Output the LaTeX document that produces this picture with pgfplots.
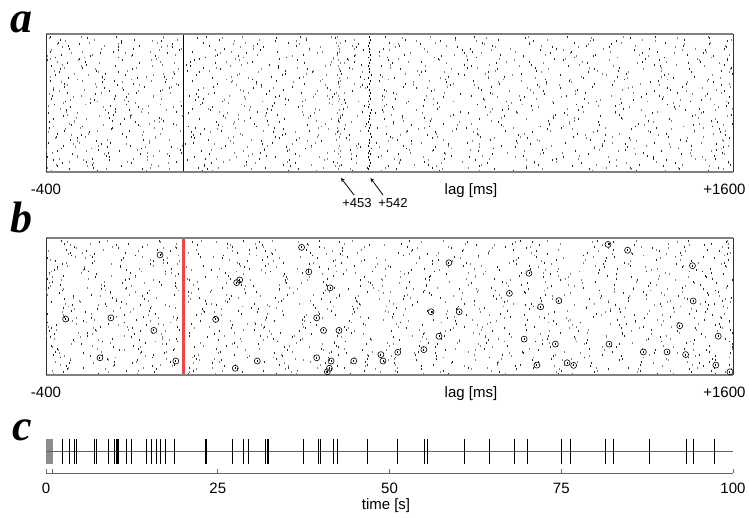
\documentclass[border=0pt]{standalone}
\usepackage{pgfplots}
\usepackage{pgfplotstable}
\pgfplotsset{compat=1.18}
\usepackage{fontspec}
\setmainfont{Liberation Sans}
\newfontfamily\panelfont{Liberation Serif}
\definecolor{zerored}{RGB}{236,72,72}

% raster a: one row per trigger, lags in ms
\pgfplotstableread{
r x1 x2 x3 x4 x5 x6 x7 x8 x9 x10 x11 x12 x13 x14 x15 x16 x17
17 -391 -318 -139 -71 96 150 281 489 611 803 917 1124 1209 1367 1555 nan nan
34 -362 -247 -188 -30 47 218 376 520 694 760 889 1043 1180 1296 1478 1590 nan
4 -378 -290 -214 -104 12 135 309 410 633 712 851 998 1075 1262 1405 1521 nan
21 -341 -226 -158 -49 78 193 256 397 579 677 930 1015 1151 1333 1462 1548 nan
38 -396 -305 -177 -92 31 164 333 481 598 745 826 964 1107 1239 1386 1502 1583
8 -355 -268 -121 -17 110 237 355 506 650 781 903 1058 1197 1314 1441 1567 nan
25 -384 -272 -200 -63 59 181 297 424 617 728 874 1029 1168 1271 1395 1533 nan
42 -332 -239 -146 -5 120 203 368 498 581 703 836 951 1086 1222 1357 1490 1576
12 -370 -284 -166 -80 23 145 268 389 603 739 866 981 1135 1250 1412 1515 nan
29 -347 -254 -113 -36 88 226 318 515 640 770 898 1037 1190 1308 1453 1592 nan
46 -388 -296 -194 -58 67 172 340 432 588 719 846 1004 1118 1281 1374 1528 nan
16 -326 -233 -132 -21 102 249 362 473 665 798 925 1066 1211 1342 1484 1571 nan
33 -373 -276 -170 -87 39 158 288 416 574 688 817 957 1097 1233 1401 1540 nan
3 -352 -261 -152 -44 81 210 325 503 629 752 884 1022 1159 1290 1433 1587 nan
20 -394 -309 -218 -101 16 127 243 381 560 697 829 972 1110 1257 1365 1509 nan
37 -337 -243 -129 -26 93 185 352 468 610 767 910 1049 1175 1321 1469 1560 nan
7 -366 -281 -185 -69 53 176 302 439 593 724 859 993 1140 1266 1392 1537 nan
24 -344 -250 -160 -10 115 231 347 511 655 785 941 1074 1203 1350 1476 1580 nan
41 -386 -293 -205 -95 27 140 273 405 570 710 842 968 1129 1244 1381 1523 nan
11 -329 -222 -117 -40 73 197 330 484 622 757 893 1032 1186 1302 1447 1569 nan
28 -379 -288 -174 -61 44 165 291 428 584 731 869 1010 1148 1277 1418 1551 nan
45 -357 -258 -143 -18 105 221 359 497 646 792 918 1061 1193 1336 1459 1595 nan
15 -390 -300 -208 -84 35 152 264 393 566 701 823 960 1102 1229 1378 1513 nan
32 -335 -236 -135 -33 86 190 338 477 615 748 887 1026 1165 1294 1427 1563 nan
2 -368 -279 -181 -74 62 178 311 442 597 736 863 999 1132 1261 1397 1531 nan
19 -349 -245 -155 -2 118 240 370 508 637 776 934 1078 1215 1345 1481 1584 nan
36 -383 -298 -197 -90 20 137 277 413 577 706 838 977 1121 1252 1389 1518 nan
6 -323 -229 -125 -47 77 202 326 490 626 763 901 1040 1178 1317 1450 1574 nan
23 -375 -285 -167 -66 49 169 296 435 590 727 855 988 1144 1270 1410 1545 nan
40 -354 -264 -149 -24 98 215 349 501 643 788 922 1054 1200 1328 1466 1589 nan
10 -392 -303 -212 -98 30 146 260 385 563 694 827 973 1113 1248 1372 1507 nan
27 -339 -240 -138 -37 90 188 343 470 612 760 895 1020 1170 1311 1437 1566 nan
44 -364 -274 -179 -77 57 182 305 447 600 733 870 1006 1137 1274 1404 1535 nan
14 -345 -251 -158 -8 112 234 366 514 652 782 937 1069 1206 1354 1488 1578 nan
31 -387 -294 -202 -93 25 142 270 400 572 715 845 983 1125 1255 1384 1526 nan
1 -331 -225 -120 -42 70 199 334 487 619 753 906 1045 1183 1305 1444 1571 nan
18 -377 -283 -171 -64 46 160 293 431 586 722 861 1000 1150 1279 1415 1548 nan
35 -359 -255 -147 -14 108 228 361 493 633 779 914 1064 1196 1339 1472 1592 nan
5 -395 -307 -216 -106 33 155 267 396 568 699 833 966 1106 1236 1369 1511 nan
22 -328 -234 -131 -29 84 194 336 479 608 745 880 1035 1162 1298 1430 1557 nan
39 -372 -287 -190 -72 64 174 300 437 595 730 852 990 1139 1264 1399 1538 nan
9 -350 -248 -153 -4 123 244 372 505 640 772 927 1072 1219 1348 1479 1586 nan
26 -381 -296 -199 -88 18 134 280 418 580 708 840 979 1116 1246 1387 1520 nan
43 -334 -231 -127 -45 75 205 328 492 628 766 899 1042 1173 1315 1456 1577 nan
13 -366 -277 -176 -68 51 167 298 444 592 737 857 994 1146 1268 1406 1543 nan
30 -346 -257 -144 -20 100 213 351 499 645 786 920 1057 1198 1331 1463 1590 nan
}\rasterA

% raster a, spikes falling between the rows above
\pgfplotstableread{
r x1 x2 x3 x4 x5 x6 x7 x8 x9 x10 x11 x12 x13 x14 x15 x16 x17
28.5 -377 -229 -176 -40 58 205 262 419 530 679 711 858 1002 1099 1297 1410 1512
10.5 -309 -254 -98 1 138 227 361 402 597 664 842 969 1036 1226 1318 1465 1571
39.5 -395 -272 -150 -81 93 161 318 499 571 751 823 990 1143 1194 1355 1542 nan
21.5 -358 -199 -120 26 72 244 385 467 612 739 900 946 1118 1280 1431 1503 1597
3.5 -333 -281 -164 -20 117 183 302 436 629 702 813 1021 1087 1239 1378 1586 nan
32.5 -388 -236 -107 -55 141 256 349 515 580 771 888 935 1160 1265 1392 1488 nan
14.5 -344 -210 -61 61 98 290 421 470 683 795 855 1060 1133 1305 1420 1560 nan
43.5 -367 -303 -189 -32 147 215 337 509 625 691 877 1008 1178 1247 1459 1532 nan
25.5 -321 -166 -87 43 177 269 380 433 586 757 914 993 1101 1332 1397 1591 nan
7.5 -398 -248 -135 -8 81 236 310 486 659 729 836 1045 1210 1286 1480 1553 nan
36.5 -351 -283 -60 10 169 251 428 517 603 818 890 1014 1154 1371 1434 1576 nan
18.5 -312 -216 -155 -70 122 196 365 458 637 702 925 1077 1138 1274 1498 nan nan
0.5 -384 -250 -108 55 86 305 388 491 577 744 863 961 1191 1320 1402 1529 nan
29.5 -339 -192 -129 -15 155 227 413 520 669 778 848 1030 1095 1250 1386 1567 nan
11.5 -372 -308 -82 31 132 281 337 474 608 724 905 1003 1172 1298 1468 1590 nan
40.5 -326 -241 -170 -47 109 184 391 448 660 817 869 1068 1127 1336 1429 1514 nan
22.5 -393 -211 -103 -5 178 259 346 527 584 699 945 1012 1208 1257 1445 1580 nan
4.5 -360 -266 -145 64 97 222 418 488 615 760 891 1087 1149 1369 1490 1549 nan
33.5 -318 -228 -59 -25 164 296 357 459 645 801 878 983 1221 1289 1411 1598 nan
15.5 -379 -295 -126 16 115 213 401 530 592 716 931 1040 1106 1316 1457 1539 nan
44.5 -343 -180 -90 -63 150 268 328 472 677 749 852 1020 1185 1262 1375 1583 nan
26.5 -389 -257 -160 38 73 242 383 441 620 807 899 1051 1140 1348 1483 1527 nan
8.5 -314 -220 -111 -36 186 300 373 516 572 733 862 968 1198 1293 1418 1572 nan
37.5 -366 -286 -67 20 125 200 432 499 654 694 940 1007 1163 1335 1405 1506 nan
19.5 -337 -205 -150 -1 160 275 350 463 606 786 884 1083 1117 1270 1492 1595 nan
1.5 -396 -262 -95 45 103 239 409 536 588 726 829 1000 1232 1302 1440 1559 nan
30.5 -356 -235 -177 -52 140 212 321 450 669 765 917 1058 1131 1361 1466 1544 nan
12.5 -325 -296 -118 28 171 287 394 482 631 710 858 974 1170 1229 1384 1577 nan
41.5 -383 -190 -70 -12 94 223 366 525 599 813 897 1039 1105 1312 1452 1520 nan
23.5 -348 -271 -140 54 130 265 425 473 648 741 955 1076 1180 1276 1426 1588 nan
5.5 -307 -224 -88 -41 188 243 338 505 576 780 870 989 1152 1352 1479 1545 nan
34.5 -375 -253 -163 12 77 296 380 456 681 704 908 1028 1205 1266 1393 1566 nan
16.5 -331 -183 -100 -28 146 207 413 533 611 757 839 1066 1124 1325 1501 1597 nan
45.5 -390 -280 -57 40 113 272 357 442 638 792 881 996 1188 1301 1438 1531 nan
27.5 -362 -214 -131 -66 174 250 391 493 590 722 948 1047 1142 1372 1463 1574 nan
9.5 -319 -240 -166 6 89 230 317 511 664 771 861 1009 1219 1288 1414 1552 nan
38.5 -386 -302 -78 47 151 281 436 478 627 743 920 1081 1112 1345 1497 1585 nan
20.5 -341 -197 -123 -19 104 217 347 521 581 806 893 970 1166 1259 1380 1513 nan
2.5 -370 -266 -93 60 183 291 372 460 672 713 867 1035 1201 1327 1454 1593 nan
31.5 -308 -231 -151 -49 126 201 405 528 598 764 933 1055 1128 1283 1409 1528 nan
13.5 -393 -274 -115 22 79 262 325 448 650 735 844 1016 1193 1360 1487 1562 nan
42.5 -353 -188 -65 -33 165 234 398 504 617 797 909 1073 1150 1241 1431 1581 nan
24.5 -329 -258 -172 35 119 306 354 468 579 701 875 982 1213 1309 1448 1507 nan
6.5 -380 -218 -104 -7 148 225 419 538 661 760 942 1049 1103 1339 1476 1569 nan
35.5 -345 -293 -137 57 96 278 332 483 604 827 856 1024 1183 1268 1391 1596 nan
17.5 -316 -206 -85 -58 179 246 388 452 642 718 898 1062 1137 1354 1422 1537 nan
}\rasterAA

% raster b
\pgfplotstableread{
r x1 x2 x3 x4 x5 x6 x7 x8 x9 x10 x11 x12 x13 x14 x15 x16
13 -388 -301 -150 -62 71 245 318 460 612 695 880 955 1139 1232 1390 1521
26 -347 -196 -113 20 133 290 402 571 640 808 910 1075 1183 1349 1466 1577
39 -372 -258 -88 -11 187 263 437 519 724 783 962 1041 1228 1301 1480 nan
5 -330 -219 -135 48 112 349 425 596 677 851 1016 1104 1270 1412 1549 nan
18 -396 -282 -171 -39 94 206 371 488 633 752 893 1062 1157 1316 1441 1590
31 -359 -240 -64 29 168 281 415 550 709 829 985 1120 1255 1378 1505 nan
44 -318 -207 -120 -24 142 234 396 527 651 771 937 1011 1196 1334 1459 1569
10 -383 -265 -145 59 125 310 445 599 688 864 944 1089 1245 1398 1531 nan
23 -350 -183 -97 -23 199 272 383 508 620 797 876 1030 1172 1287 1426 1583
36 -374 -291 -166 23 83 227 364 476 664 745 919 1053 1211 1362 1494 nan
2 -337 -228 -78 38 157 296 431 560 693 839 970 1096 1238 1325 1473 1596
15 -391 -254 -125 -51 105 251 338 499 605 763 901 1067 1150 1304 1437 1556
28 -362 -213 -104 22 180 320 409 583 717 812 996 1128 1282 1391 1525 nan
41 -325 -270 -141 -14 117 214 377 462 641 737 858 1022 1165 1339 1449 1574
7 -379 -236 -86 45 150 285 452 536 676 846 928 1082 1219 1356 1501 nan
20 -345 -195 -116 -30 91 241 353 515 608 790 953 1037 1193 1283 1417 1562
33 -397 -277 -158 12 136 304 420 577 704 823 906 1113 1260 1384 1541 nan
46 -356 -222 -70 53 175 259 396 491 657 758 981 1059 1204 1319 1471 1585
12 -321 -246 -129 -40 101 232 342 548 628 805 889 1045 1176 1347 1488 nan
25 -385 -301 -179 16 129 277 428 506 682 764 935 1101 1237 1408 1519 1593
38 -352 -210 -95 -18 163 248 366 566 724 836 971 1071 1223 1296 1434 1567
4 -333 -263 -147 30 86 293 413 486 614 779 913 1026 1187 1368 1503 nan
17 -370 -189 -109 -58 144 226 388 531 695 857 995 1134 1268 1393 1550 nan
30 -392 -279 -166 -21 114 310 439 554 648 740 896 1060 1164 1311 1452 1580
43 -341 -232 -75 37 192 269 359 519 668 815 960 1092 1251 1376 1527 nan
9 -366 -251 -131 -27 97 220 401 470 631 793 877 1008 1181 1335 1460 1597
22 -327 -204 -100 58 159 287 432 589 710 769 944 1118 1244 1357 1493 nan
35 -389 -297 -154 -36 121 240 348 502 656 831 985 1048 1209 1402 1536 nan
1 -350 -218 -84 17 172 314 416 573 622 749 921 1085 1197 1323 1478 1578
14 -376 -266 -143 -64 90 257 373 524 699 862 949 1039 1277 1364 1509 nan
27 -319 -241 -119 14 139 223 454 511 643 786 904 1073 1216 1298 1442 1560
40 -395 -286 -174 -45 113 281 389 563 687 806 974 1106 1233 1390 1545 nan
6 -358 -199 -91 26 186 262 423 497 617 757 892 1018 1168 1340 1470 1591
19 -336 -258 -137 -20 103 238 347 582 728 842 1002 1127 1263 1381 1516 nan
32 -381 -229 -71 42 166 298 407 540 659 774 930 1055 1199 1318 1485 nan
45 -345 -272 -160 -19 127 211 362 468 635 820 957 1098 1240 1411 1538 1588
11 -398 -213 -110 50 148 330 441 593 714 799 883 1066 1174 1308 1463 nan
24 -323 -247 -126 -53 95 246 379 516 666 846 996 1139 1257 1371 1529 nan
37 -367 -288 -183 10 177 271 396 559 603 772 915 1033 1226 1344 1454 1582
3 -340 -205 -89 -32 119 307 449 529 692 819 968 1079 1186 1396 1514 nan
16 -384 -262 -148 33 141 234 355 481 648 787 936 1123 1274 1328 1491 1570
29 -353 -226 -99 -15 83 279 413 568 701 860 909 1051 1211 1361 1550 nan
42 -330 -294 -170 14 156 255 370 506 626 743 887 1014 1177 1303 1447 1594
8 -373 -239 -123 -48 109 316 430 551 684 829 988 1108 1248 1416 1532 nan
21 -396 -268 -81 52 170 244 396 493 612 766 923 1064 1201 1352 1474 1576
34 -348 -209 -140 -24 131 291 437 588 719 851 977 1091 1235 1385 1521 nan
}\rasterB

\pgfplotstableread{
r x1 x2 x3 x4 x5 x6 x7 x8 x9 x10 x11 x12 x13 x14 x15 x16
36.5 -366 -287 -128 -34 105 193 331 421 589 703 846 1010 1092 1263 1380 1534
26.5 -320 -206 -79 48 160 268 446 502 661 748 927 1040 1213 1297 1459 1596
16.5 -392 -242 -162 -18 77 236 349 470 626 818 871 1022 1145 1340 1422 1563
6.5 -345 -271 -110 31 191 289 382 540 605 736 954 1077 1182 1276 1491 1548
43.5 -310 -189 -57 -19 129 214 410 463 681 780 899 998 1237 1366 1413 1587
33.5 -381 -255 -141 63 98 300 367 528 633 715 851 1047 1121 1305 1469 1522
23.5 -336 -223 -92 -41 173 250 436 491 592 802 932 1018 1173 1391 1446 1571
13.5 -398 -278 -172 17 119 225 322 449 667 759 880 1063 1231 1285 1405 1557
3.5 -357 -201 -66 -25 152 279 398 536 618 728 913 982 1108 1331 1481 1590
40.5 -315 -265 -118 51 88 246 341 478 688 789 860 1029 1195 1254 1433 1514
30.5 -386 -230 -150 -23 181 203 420 515 579 707 945 1071 1139 1355 1462 1583
20.5 -348 -173 -101 37 112 292 359 443 640 824 890 993 1216 1312 1395 1541
10.5 -326 -296 -60 -48 144 219 404 532 611 741 858 1044 1168 1268 1486 1598
0.5 -377 -248 -133 15 94 270 330 485 698 773 938 1093 1134 1381 1428 1550
37.5 -339 -182 -86 59 165 239 443 497 597 814 867 1006 1200 1302 1455 1577
27.5 -395 -268 -158 -27 124 303 378 455 652 722 921 1055 1110 1348 1400 1528
17.5 -312 -217 -72 24 187 210 347 524 620 795 884 1085 1242 1289 1498 1561
7.5 -361 -290 -124 -56 101 264 426 476 674 733 948 989 1155 1370 1439 1592
44.5 -330 -194 -106 41 137 230 363 541 584 852 905 1037 1220 1313 1474 1517
34.5 -389 -252 -52 -14 176 295 405 466 643 766 873 1068 1127 1262 1415 1573
24.5 -344 -227 -165 66 82 208 337 512 612 819 961 1013 1196 1389 1506 1545
14.5 -306 -279 -91 19 149 282 450 489 701 747 845 1099 1176 1277 1443 1597
4.5 -373 -201 -137 -39 106 237 371 530 586 784 918 1033 1148 1332 1467 1532
41.5 -334 -259 -63 44 193 259 416 456 659 710 887 1059 1249 1306 1407 1585
31.5 -390 -176 -114 -22 126 301 345 544 628 839 940 1002 1161 1360 1488 1552
21.5 -351 -286 -154 60 91 217 392 498 596 726 866 1081 1229 1272 1430 1519
11.5 -317 -235 -82 -16 170 274 440 471 690 805 934 1024 1143 1391 1476 1589
1.5 -380 -166 -130 30 113 233 333 526 618 757 896 1101 1206 1330 1419 1538
38.5 -340 -264 -59 -45 158 290 380 460 679 823 950 1050 1164 1285 1500 1576
28.5 -398 -212 -140 14 80 212 424 537 603 700 855 994 1254 1340 1452 1557
18.5 -323 -291 -97 50 138 266 352 483 655 791 912 1078 1121 1315 1397 1591
8.5 -365 -186 -171 -30 182 303 409 520 591 763 849 1035 1227 1374 1484 1523
45.5 -338 -244 -67 25 96 222 336 453 694 826 967 1015 1190 1253 1437 1581
35.5 -385 -275 -121 -53 155 253 447 549 632 730 878 1090 1152 1349 1473 1512
25.5 -303 -196 -103 63 122 286 371 504 601 848 942 1041 1236 1296 1419 1570
15.5 -371 -257 -159 -11 174 207 400 474 687 776 869 999 1178 1363 1493 1594
5.5 -329 -220 -50 38 89 272 326 535 615 738 926 1072 1130 1279 1406 1541
42.5 -393 -281 -132 -37 144 239 435 462 664 812 892 1027 1209 1387 1461 1560
32.5 -354 -168 -88 17 194 297 361 514 580 717 952 1097 1158 1321 1432 1599
22.5 -318 -250 -146 56 110 219 418 494 646 795 863 1008 1244 1268 1479 1526
12.5 -376 -208 -61 -20 166 262 346 545 707 752 917 1061 1140 1355 1417 1578
2.5 -335 -292 -117 19 84 307 389 469 624 829 886 1020 1201 1297 1496 1547
39.5 -388 -181 -95 -58 135 229 442 526 588 742 971 1086 1170 1376 1448 1586
29.5 -348 -240 -168 44 178 280 331 481 671 803 852 1004 1256 1310 1410 1515
19.5 -312 -268 -74 -18 100 243 405 539 609 770 936 1052 1116 1343 1487 1565
9.5 -380 -203 -125 32 157 294 368 450 699 734 901 1069 1219 1262 1427 1597
}\rasterBB

\pgfplotsset{
  raster/.style={scale only axis, width=687pt, anchor=south west,
    xmin=-400, xmax=1600, ymin=0, ymax=47, hide axis, clip=false},
  dots/.style={only marks, mark=|, mark size=0.95pt, line width=0.9pt},
}
\newcommand\tl{\fontsize{15}{15}\selectfont}
\newcommand\pl{\panelfont\bfseries\itshape\fontsize{44}{44}\selectfont}

\begin{document}
\begin{tikzpicture}[x=1pt,y=1pt]
\useasboundingbox (0,0) rectangle (749,517);

% ---- a ----
\begin{axis}[raster, at={(46pt,345pt)}, height=138pt]
\pgfplotsinvokeforeach{1,3,...,17}{
  \addplot[dots, black!85] table[x=x#1, y=r]{\rasterA};
  \addplot[dots, black!50] table[x=x#1, y=r]{\rasterAA};
}
\pgfplotsinvokeforeach{2,4,...,16}{
  \addplot[dots, black!50] table[x=x#1, y=r]{\rasterA};
  \addplot[dots, black!85] table[x=x#1, y=r]{\rasterAA};
}
% aligned columns at +453 and +542
\addplot[dots, black!50] coordinates {
(451,1)(455,2)(449,3)(456,5)(452,6)(458,7)(450,8)(454,9)(447,11)(453,12)(457,13)(452,14)(449,15)(455,17)(451,18)(456,19)(448,20)(453,21)(459,23)(450,24)(454,25)(452,26)(446,27)(455,29)(451,30)(457,31)(453,32)(449,33)(454,35)(450,36)(456,37)(452,38)(448,40)(455,41)(453,42)(451,43)(457,44)(449,46)};
\addplot[dots, black] coordinates {
(540,1)(543,2)(545,3)(541,4)(538,5)(544,6)(542,7)(546,8)(539,9)(543,10)(541,11)(547,12)(544,13)(540,14)(542,15)(545,16)(538,17)(543,18)(541,19)(544,20)(546,21)(540,22)(542,23)(539,24)(544,25)(541,26)(545,27)(543,28)(537,29)(542,30)(544,31)(540,32)(546,33)(541,34)(543,35)(539,36)(542,37)(545,38)(540,39)(544,40)(541,41)(543,42)(538,43)(542,44)(545,45)(541,46)};
% trigger time
\addplot[fill=black, draw=none] coordinates {(-1.5,0) (1.5,0) (1.5,47) (-1.5,47)};
\draw[black!50, line width=1.5pt] (rel axis cs:0,0) -- (rel axis cs:1,0) (rel axis cs:0,1) -- (rel axis cs:1,1);
\draw[black!80, line width=0.8pt] (rel axis cs:0,0) -- (rel axis cs:0,1) (rel axis cs:1,0) -- (rel axis cs:1,1);
\end{axis}

% ---- b ----
\begin{axis}[raster, at={(46pt,142pt)}, height=137pt]
\pgfplotsinvokeforeach{1,3,...,15}{
  \addplot[dots, black!85] table[x=x#1, y=r]{\rasterB};
  \addplot[dots, black!50] table[x=x#1, y=r]{\rasterBB};
}
\pgfplotsinvokeforeach{2,4,...,16}{
  \addplot[dots, black!50] table[x=x#1, y=r]{\rasterB};
  \addplot[dots, black!85] table[x=x#1, y=r]{\rasterBB};
}
% trigger time
\addplot[fill=zerored, draw=none] coordinates {(-3.5,0) (3.5,0) (3.5,47) (-3.5,47)};
% circled spikes
\addplot[only marks, mark=o, mark size=3pt, line width=0.6pt, black] coordinates {
(-68,41.2)(164,32.6)(155,31.7)(-343,19.2)(-211,19.6)(94,19.1)(-86,15.3)(-243,5.9)(-22,4.8)(151,2.3)(344,43.8)(365,35.4)(427,29.9)(388,19.6)(408,15.3)(453,15.3)(721,21.7)(803,21.7)(773,38.5)(744,13.3)(700,8.7)(624,7.8)(575,7.0)(581,4.8)(496,4.8)(430,4.8)(388,5.9)(425,2.3)(419,1.1)(215,4.8)(1236,44.8)(1293,42.8)(1482,37.5)(1006,34.9)(949,28.0)(1093,25.5)(1040,23.4)(1484,25.4)(1445,16.9)(1557,13.3)(992,12.3)(1083,10.6)(1239,10.6)(1339,7.9)(1408,7.9)(1462,7.0)(1029,3.4)(1117,4.2)(1136,3.3)(1550,3.4)(1591,1.1)};
\addplot[dots, black] coordinates {
(-68,41.2)(164,32.6)(155,31.7)(-343,19.2)(-211,19.6)(94,19.1)(-86,15.3)(-243,5.9)(-22,4.8)(151,2.3)(344,43.8)(365,35.4)(427,29.9)(388,19.6)(408,15.3)(453,15.3)(721,21.7)(803,21.7)(773,38.5)(744,13.3)(700,8.7)(624,7.8)(575,7.0)(581,4.8)(496,4.8)(430,4.8)(388,5.9)(425,2.3)(419,1.1)(215,4.8)(1236,44.8)(1293,42.8)(1482,37.5)(1006,34.9)(949,28.0)(1093,25.5)(1040,23.4)(1484,25.4)(1445,16.9)(1557,13.3)(992,12.3)(1083,10.6)(1239,10.6)(1339,7.9)(1408,7.9)(1462,7.0)(1029,3.4)(1117,4.2)(1136,3.3)(1550,3.4)(1591,1.1)};
\draw[black!50, line width=1.5pt] (rel axis cs:0,0) -- (rel axis cs:1,0) (rel axis cs:0,1) -- (rel axis cs:1,1);
\draw[black!80, line width=0.8pt] (rel axis cs:0,0) -- (rel axis cs:0,1) (rel axis cs:1,0) -- (rel axis cs:1,1);
\end{axis}

% ---- c ----
\begin{axis}[at={(46pt,44pt)}, anchor=south west, scale only axis,
  width=687pt, height=34pt, xmin=0, xmax=100, ymin=0, ymax=34,
  axis x line*=bottom, axis y line=none, clip=false,
  xtick={0,25,50,75,100}, extra x ticks={1}, extra x tick labels={},
  extra x tick style={grid=none},
  tick align=inside, major tick length=4pt,
  x axis line style={black!60, line width=1pt},
  tick style={black!60, line width=1pt},
  /pgf/number format/assume math mode=true,
  xticklabel style={font=\tl, anchor=base, yshift=-20pt}]
\addplot[fill=black!45, draw=none] coordinates {(0,9) (1,9) (1,34) (0,34)};
\addplot[black!60, line width=1pt] coordinates {(0,21.5) (100,21.5)};
\addplot[only marks, mark=|, mark size=12.5pt, line width=1pt, black] coordinates {
(2.43,21.5)(3.49,21.5)(4.18,21.5)(4.46,21.5)(7.09,21.5)(7.38,21.5)(9.03,21.5)(10.0,21.5)(10.2,21.5)(10.4,21.5)(10.6,21.5)(11.7,21.5)(12.4,21.5)(14.6,21.5)(15.4,21.5)(16.1,21.5)(16.7,21.5)(17.4,21.5)(18.7,21.5)(23.2,21.5)(23.3,21.5)(27.1,21.5)(28.7,21.5)(29.5,21.5)(32.0,21.5)(32.2,21.5)(32.4,21.5)(37.5,21.5)(39.6,21.5)(40.0,21.5)(41.8,21.5)(42.4,21.5)(46.8,21.5)(51.1,21.5)(55.1,21.5)(55.5,21.5)(60.9,21.5)(64.5,21.5)(68.2,21.5)(70.1,21.5)(75.1,21.5)(76.3,21.5)(81.5,21.5)(82.6,21.5)(87.9,21.5)(93.3,21.5)(94.3,21.5)(97.3,21.5)};
\end{axis}

% labels
\node[anchor=base west, font=\pl] at (7,484) {a};
\node[anchor=base west, font=\pl] at (7,284) {b};
\node[anchor=base west, font=\pl] at (9,77) {c};

\node[anchor=base, font=\tl] at (46,322) {-400};
\node[anchor=base, font=\tl] at (471,322) {lag [ms]};
\node[anchor=base east, font=\tl] at (749,322) {+1600};
\draw[-stealth, line width=0.8pt] (354,322) -- (341,339);
\draw[-stealth, line width=0.8pt] (383,322) -- (370.5,339);
\node[anchor=base, font=\fontsize{13}{13}\selectfont] at (357,309) {+453};
\node[anchor=base, font=\fontsize{13}{13}\selectfont] at (393,309) {+542};

\node[anchor=base, font=\tl] at (46,120) {-400};
\node[anchor=base, font=\tl] at (471,120) {lag [ms]};
\node[anchor=base east, font=\tl] at (749,120) {+1600};

\node[anchor=base, font=\tl] at (386,8) {time [s]};
\end{tikzpicture}
\end{document}
